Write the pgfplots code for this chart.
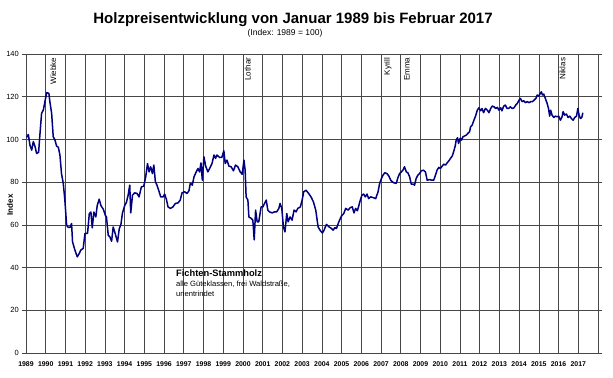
\documentclass[border=0pt]{standalone}
\usepackage{pgfplots}
\pgfplotsset{compat=1.18}
\usepackage{fontspec}
\setmainfont{Liberation Sans}
\definecolor{navy}{RGB}{0,0,128}
\definecolor{gridc}{RGB}{70,70,70}
\begin{document}
\begin{tikzpicture}
\path[use as bounding box] (0,0) rectangle (613bp,378bp);
\begin{axis}[
  at={(26bp,25bp)}, anchor=south west,
  width=572bp, height=299bp, scale only axis,
  xmin=1989, xmax=2018, ymin=0, ymax=140,
  xtick={1989,1990,...,2017},
  ytick={0,20,...,140},
  grid=major,
  major grid style={draw=gridc, line width=0.6bp},
  axis line style={draw=gridc, line width=0.7bp},
  tick align=outside,
  major tick length=4bp,
  tick style={draw=gridc, line width=0.6bp},
  xtick style={draw=none},
  /pgf/number format/assume math mode=true,
  /pgf/number format/1000 sep={},
  xticklabel style={font=\fontsize{6.9bp}{7bp}\selectfont\bfseries, inner sep=0pt, yshift=-4bp},
  yticklabel style={font=\fontsize{7.5bp}{8bp}\selectfont, inner sep=0pt, xshift=-3bp},
  clip=false,
]
\addplot[navy, line width=1.5bp, line join=round] table {
x y
1989.03 101
1989.12 102.3
1989.20 97.3
1989.29 95
1989.37 99
1989.46 96.6
1989.54 93.4
1989.64 94
1989.71 102.8
1989.79 112.2
1989.88 113.8
1989.96 117.7
1990.05 121.9
1990.16 121.6
1990.21 117.7
1990.30 112.2
1990.38 101.3
1990.47 99.7
1990.55 96.9
1990.64 96.3
1990.72 92.7
1990.80 84
1990.89 79.4
1990.97 71.6
1991.06 59.8
1991.14 58.8
1991.23 58.8
1991.31 60.6
1991.36 52
1991.48 48.2
1991.60 45
1991.70 46.6
1991.78 48.2
1991.90 49
1991.99 56
1992.12 56
1992.21 65.3
1992.29 66
1992.36 58.6
1992.44 66
1992.54 63.7
1992.61 69
1992.71 72
1992.80 69
1992.92 67.3
1993.02 64.5
1993.08 63.7
1993.17 55.1
1993.25 54.4
1993.34 52.3
1993.42 59
1993.52 56
1993.64 52
1993.73 58.3
1993.81 60
1993.89 65.5
1994.01 69.2
1994.09 70.5
1994.18 74
1994.26 78.6
1994.31 65.6
1994.40 73.9
1994.51 75
1994.63 74.7
1994.73 73.1
1994.85 77.8
1994.97 78.1
1995.07 82.5
1995.16 88.7
1995.24 84.8
1995.32 87.2
1995.41 84
1995.48 88
1995.56 80.2
1995.64 78.6
1995.75 75.5
1995.83 73.1
1995.95 73.1
1996.03 74.4
1996.12 71.9
1996.20 68.4
1996.32 67.7
1996.45 68.4
1996.57 70
1996.71 70.3
1996.82 71.6
1996.91 75
1997.04 75.5
1997.16 74.7
1997.26 75.9
1997.33 79.4
1997.43 78.6
1997.52 82.5
1997.63 84.8
1997.72 86.4
1997.80 84.8
1997.87 89
1997.94 80.9
1998.02 91.9
1998.11 87.5
1998.22 84.8
1998.31 86.4
1998.43 88.7
1998.53 92.7
1998.61 91.1
1998.68 92.7
1998.81 91.6
1998.93 91.6
1999.03 94.7
1999.10 88.7
1999.19 90.3
1999.29 87.5
1999.40 87.2
1999.52 85.3
1999.62 88
1999.74 87.2
1999.86 84.8
1999.96 83.7
2000.05 90.3
2000.11 85.6
2000.16 73.1
2000.25 71.6
2000.30 63.7
2000.42 63
2000.50 62.2
2000.57 53
2000.64 66.9
2000.72 61.4
2000.80 61.4
2000.92 68.4
2001.01 68.4
2001.09 70
2001.18 71.6
2001.26 66.9
2001.34 66.1
2001.48 65.6
2001.60 66.1
2001.71 66.1
2001.82 67.7
2001.88 70
2001.97 67.7
2002.05 59
2002.13 56.7
2002.22 65.3
2002.29 61.4
2002.39 63.7
2002.49 62.2
2002.59 66.9
2002.69 66.1
2002.78 67.7
2002.91 68.4
2003.00 71.6
2003.08 75.5
2003.20 76.2
2003.33 74.7
2003.45 73.1
2003.57 70.8
2003.69 66.9
2003.81 59
2003.93 57.2
2004.03 56.2
2004.11 57.5
2004.23 60.2
2004.37 59
2004.49 58.3
2004.57 57.5
2004.66 58.7
2004.74 58.3
2004.86 61.4
2004.99 64.1
2005.11 65.3
2005.21 67.7
2005.33 66.9
2005.44 68.1
2005.54 68.4
2005.63 65.6
2005.71 67.7
2005.80 66.6
2005.88 69.2
2005.95 71.6
2006.03 73.9
2006.12 74.4
2006.20 73.1
2006.29 74.4
2006.37 72.3
2006.47 73.1
2006.59 72.8
2006.73 72.3
2006.85 75.5
2006.93 79.4
2007.02 81.7
2007.10 83.3
2007.19 84.4
2007.30 84
2007.40 82.8
2007.49 80.9
2007.57 80.2
2007.65 79.7
2007.77 79.4
2007.86 82.2
2007.94 84
2008.03 84.8
2008.11 85.6
2008.19 87.2
2008.28 84.8
2008.36 84.4
2008.45 82.5
2008.53 79.1
2008.62 79.1
2008.70 78.6
2008.78 81.7
2008.87 83.3
2008.95 84
2009.04 85.3
2009.15 85.6
2009.25 84.8
2009.34 80.9
2009.46 81.2
2009.57 80.9
2009.67 80.9
2009.76 83.3
2009.84 85.6
2009.93 86.9
2010.01 86.4
2010.10 87.5
2010.18 88.4
2010.27 88
2010.35 89
2010.44 90
2010.52 91.1
2010.61 92.2
2010.68 94.2
2010.76 96.9
2010.81 99.7
2010.88 100.8
2010.93 98.1
2011.01 100.5
2011.08 99.7
2011.15 101.2
2011.23 101.6
2011.32 102
2011.40 102.8
2011.49 103.6
2011.54 105.9
2011.62 106.7
2011.71 109
2011.79 110.9
2011.88 113.7
2011.96 114.8
2012.05 113.4
2012.12 114.5
2012.20 112.5
2012.29 114.5
2012.39 113.7
2012.47 112.5
2012.56 114.5
2012.64 115.6
2012.73 115.3
2012.81 114.5
2012.90 115
2012.98 113.7
2013.07 114.8
2013.13 113.4
2013.22 115.6
2013.30 116.1
2013.39 114.5
2013.47 114.5
2013.56 115.3
2013.64 114.5
2013.74 114.8
2013.83 116.1
2013.91 116.9
2014.00 118.4
2014.07 119.2
2014.15 117.7
2014.24 118.1
2014.32 117.2
2014.41 117.7
2014.51 117.2
2014.59 117.7
2014.68 117.7
2014.76 118.4
2014.85 119.2
2014.92 120.8
2015.00 120.3
2015.08 121.6
2015.13 122.3
2015.18 120.8
2015.25 121.2
2015.33 119.2
2015.42 116.9
2015.49 114.5
2015.55 110.9
2015.60 113.7
2015.67 111.4
2015.76 110.3
2015.84 110.9
2015.92 110.6
2016.01 110.9
2016.09 109
2016.18 110.6
2016.23 113
2016.31 111.4
2016.40 111.9
2016.48 110.3
2016.57 110.9
2016.65 109.8
2016.74 109
2016.82 110.3
2016.91 110.9
2016.98 114.5
2017.04 111.4
2017.11 109.8
2017.18 110.3
2017.23 112.5
};
\node[rotate=90, anchor=east, font=\fontsize{8bp}{9bp}\selectfont, inner sep=0pt] at (axis cs:1990.38,138.3) {Wiebke};
\node[rotate=90, anchor=east, font=\fontsize{8bp}{9bp}\selectfont, inner sep=0pt] at (axis cs:2000.24,138.3) {Lothar};
\node[rotate=90, anchor=east, font=\fontsize{8bp}{9bp}\selectfont, inner sep=0pt] at (axis cs:2007.34,138.3) {Kyrill};
\node[rotate=90, anchor=east, font=\fontsize{8bp}{9bp}\selectfont, inner sep=0pt] at (axis cs:2008.31,138.3) {Emma};
\node[rotate=90, anchor=east, font=\fontsize{8bp}{9bp}\selectfont, inner sep=0pt] at (axis cs:2016.20,138.3) {Niklas};
\end{axis}
\node[anchor=base, font=\fontsize{15bp}{17bp}\selectfont\bfseries, inner sep=0pt] at (293bp,354.5bp) {Holzpreisentwicklung von Januar 1989 bis Februar 2017};
\node[anchor=base, font=\fontsize{8.5bp}{10bp}\selectfont, inner sep=0pt] at (285bp,342.5bp) {(Index: 1989 = 100)};
\node[rotate=90, font=\fontsize{8bp}{9bp}\selectfont\bfseries, inner sep=0pt] at (10bp,173bp) {Index};
\node[anchor=base west, font=\fontsize{9.3bp}{10bp}\selectfont\bfseries, inner sep=0pt] at (176bp,101bp) {Fichten-Stammholz};
\node[anchor=base west, font=\fontsize{7.6bp}{8bp}\selectfont, inner sep=0pt] at (176bp,91.5bp) {alle Güteklassen, frei Waldstraße,};
\node[anchor=base west, font=\fontsize{7.6bp}{8bp}\selectfont, inner sep=0pt] at (176bp,81.5bp) {unentrindet};
\end{tikzpicture}
\end{document}
